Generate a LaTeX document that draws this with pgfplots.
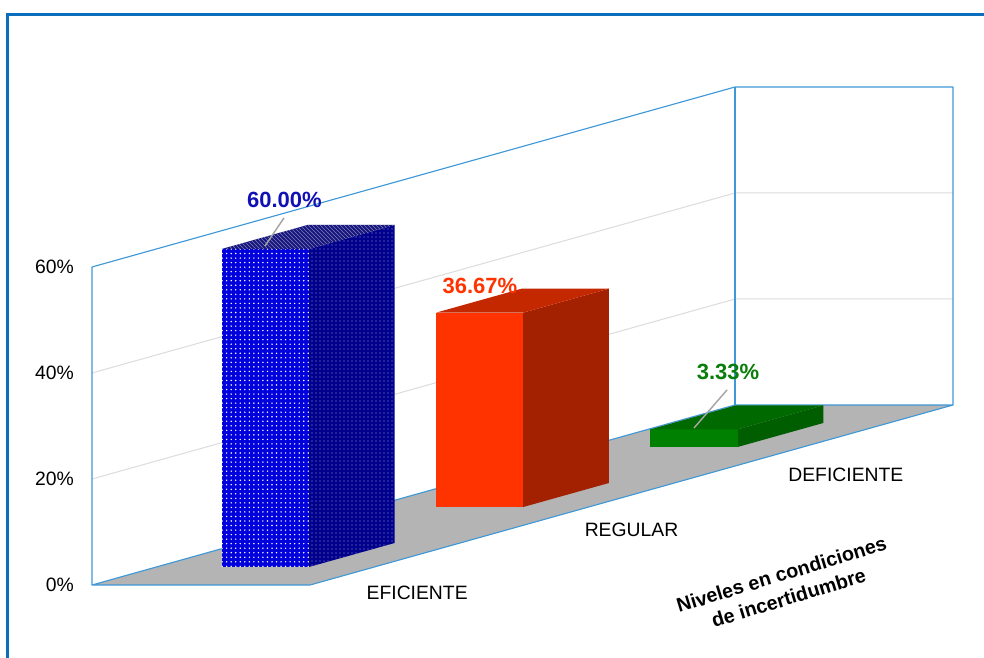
\documentclass[border=0pt]{standalone}
\usepackage{fontspec}
\setmainfont{Liberation Sans}
\usepackage{pgfplots}
\pgfplotsset{compat=1.18}
\usetikzlibrary{patterns}
\pgfdeclarepatternformonly{bigdots}{\pgfqpoint{-1pt}{-1pt}}{\pgfqpoint{1pt}{1pt}}{\pgfqpoint{3.4pt}{3.4pt}}{\pgfpathcircle{\pgfqpoint{0pt}{0pt}}{0.6pt}\pgfusepath{fill}}
\pgfdeclarepatternformonly{smalldots}{\pgfqpoint{-1pt}{-1pt}}{\pgfqpoint{1pt}{1pt}}{\pgfqpoint{3pt}{3pt}}{\pgfpathcircle{\pgfqpoint{0pt}{0pt}}{0.45pt}\pgfusepath{fill}}
\definecolor{frameblue}{HTML}{0A6EBD}
\definecolor{wallblue}{HTML}{3F98D8}
\definecolor{gridgray}{HTML}{DCDCDC}
\definecolor{floorgray}{HTML}{B4B4B4}
\definecolor{bluefront}{HTML}{0000DD}
\definecolor{blueside}{HTML}{00008C}
\definecolor{bluetop}{HTML}{16167E}
\definecolor{redfront}{HTML}{FF3300}
\definecolor{redside}{HTML}{A32100}
\definecolor{redtop}{HTML}{C42800}
\definecolor{greenfront}{HTML}{008000}
\definecolor{greenside}{HTML}{005E00}
\definecolor{greentop}{HTML}{006A00}
\definecolor{lblA}{HTML}{1010B4}
\definecolor{lblB}{HTML}{FF3300}
\definecolor{lblC}{HTML}{0A7D0A}
\definecolor{leader}{HTML}{A6A6A6}

% #1 x0, #2 x1, #3 value, #4 front style, #5 side style, #6 top style
\newcommand{\cube}[6]{%
 \addplot3[draw=none, #5] coordinates {(#1,0.7,0) (#2,0.7,0) (#2,0.7,#3) (#1,0.7,#3)} -- cycle;
 \addplot3[draw=none, #4] coordinates {(#1,0.3,0) (#1,0.7,0) (#1,0.7,#3) (#1,0.3,#3)} -- cycle;
 \addplot3[draw=none, #6] coordinates {(#1,0.3,#3) (#1,0.7,#3) (#2,0.7,#3) (#2,0.3,#3)} -- cycle;
}

\begin{document}
\begin{tikzpicture}
\begin{axis}[
  hide axis, clip=false,
  x={(160.75pt,45pt)}, y={(163.5pt,0pt)}, z={(0pt,3.975pt)},
  xmin=0, xmax=3, ymin=0, ymax=1, zmin=0, zmax=60,
  every axis plot/.append style={no marks, line join=round},
]
% walls
\addplot3[fill=white, draw=none] coordinates {(0,0,0) (3,0,0) (3,0,60) (0,0,60)} -- cycle;
\addplot3[fill=white, draw=none] coordinates {(3,0,0) (3,1,0) (3,1,60) (3,0,60)} -- cycle;
\addplot3[gridgray, line width=0.75pt] coordinates {(0,0,20) (3,0,20) (3,1,20)};
\addplot3[gridgray, line width=0.75pt] coordinates {(0,0,40) (3,0,40) (3,1,40)};
\addplot3[wallblue, line width=0.85pt] coordinates {(0,0,0) (0,0,60) (3,0,60) (3,1,60) (3,1,0)};
\addplot3[wallblue, line width=0.85pt] coordinates {(3,0,0) (3,0,60)};
% floor
\addplot3[fill=floorgray, draw=wallblue, line width=0.85pt] coordinates {(0,0,0) (3,0,0) (3,1,0) (0,1,0)} -- cycle;

% bars
\cube{0.3}{0.7}{60}
 {fill=bluefront, postaction={pattern=bigdots, pattern color=white}}
 {fill=blueside, postaction={pattern=smalldots, pattern color=white!60!blueside}}
 {fill=bluetop, postaction={pattern=north west lines, pattern color=white!45!bluetop}}
\cube{1.3}{1.7}{36.67}{fill=redfront}{fill=redside}{fill=redtop}
\cube{2.3}{2.7}{3.33}{fill=greenfront}{fill=greenside}{fill=greentop}

% z tick labels
\pgfplotsinvokeforeach{0,20,40,60}{
  \node[anchor=east, inner sep=0pt, xshift=-13.5pt, font=\fontsize{14.5}{17}\selectfont] at (axis cs:0,0,#1) {#1\%};
}
% category labels
\node[inner sep=0pt, yshift=-28.5pt, font=\fontsize{14.5}{17}\selectfont] at (axis cs:0.5,1,0) {EFICIENTE};
\node[inner sep=0pt, yshift=-26.25pt, font=\fontsize{14.5}{17}\selectfont] at (axis cs:1.5,1,0) {REGULAR};
\node[inner sep=0pt, yshift=-29.6pt, font=\fontsize{14.5}{17}\selectfont] at (axis cs:2.5,1,0) {DEFICIENTE};

% leader lines
\draw[leader, line width=1.1pt] ([shift={(-18.15pt,14.25pt)}]axis cs:0.5,0.5,60) -- ([shift={(-32.4pt,-6.75pt)}]axis cs:0.5,0.5,60);
\draw[leader, line width=1.1pt] ([shift={(-7.35pt,20.55pt)}]axis cs:2.5,0.5,3.33) -- ([shift={(-32.1pt,-7.95pt)}]axis cs:2.5,0.5,3.33);

% data labels
\node[inner sep=0pt, xshift=-17.8pt, yshift=27.75pt, text=lblA, font=\fontsize{16.5}{19}\selectfont\bfseries] at (axis cs:0.5,0.5,60) {60.00\%};
\node[inner sep=0pt, xshift=-31.9pt, yshift=11.3pt, text=lblB, font=\fontsize{16.5}{19}\selectfont\bfseries] at (axis cs:1.5,0.5,36.67) {36.67\%};
\node[inner sep=0pt, xshift=-6.6pt, yshift=33.7pt, text=lblC, font=\fontsize{16.5}{19}\selectfont\bfseries] at (axis cs:2.5,0.5,3.33) {3.33\%};

\coordinate (O) at (axis cs:0,0,0);
\end{axis}

\begin{scope}[shift={(O)}, x=0.75pt, y=-0.75pt, shift={(-92,-585)}]
  \pgfresetboundingbox
  \path[use as bounding box] (0,0) rectangle (984,657);
  \draw[frameblue, line width=2.3pt] (7.5,720) -- (7.5,14.5) -- (1050,14.5);
  \node[rotate=17, align=center, inner sep=0pt, font=\fontsize{14.8}{18.4}\selectfont\bfseries] at (785,586)
    {Niveles en condiciones\\de incertidumbre};
\end{scope}
\end{tikzpicture}
\end{document}
